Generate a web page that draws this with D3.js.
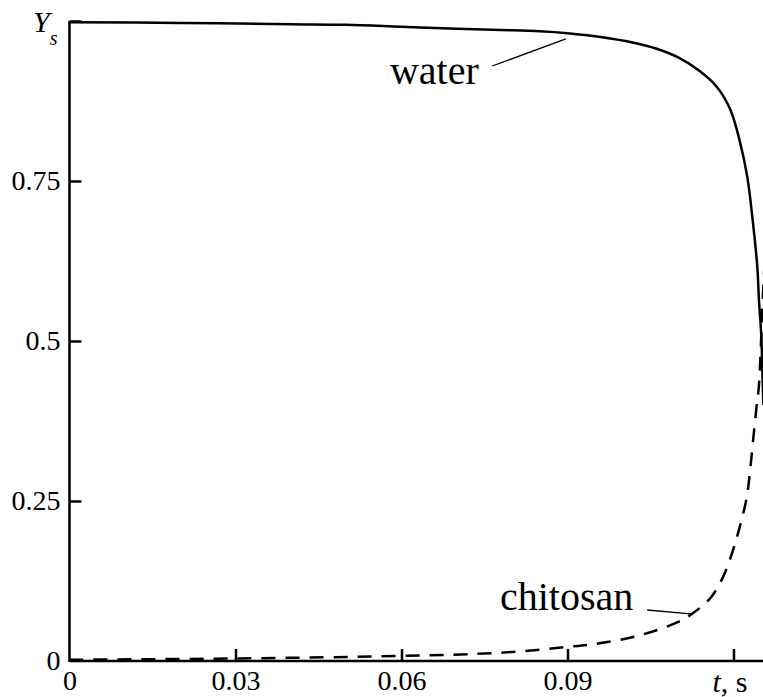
<!DOCTYPE html>
<html>
<head>
<meta charset="utf-8">
<script src="https://cdn.jsdelivr.net/npm/d3@7"></script>
</head>
<body style="margin:0">
<script>
// time, s
const waterT = [0, 0.02, 0.04, 0.05, 0.06, 0.07, 0.078, 0.085, 0.09, 0.096, 0.102, 0.106, 0.11, 0.114, 0.117, 0.1194, 0.1212, 0.1225, 0.1234, 0.1243, 0.1246, 0.125, 0.1252, 0.1254];
const waterY = [0.998, 0.997, 0.995, 0.994, 0.991, 0.988, 0.986, 0.984, 0.981, 0.975, 0.966, 0.957, 0.943, 0.921, 0.897, 0.862, 0.810, 0.756, 0.694, 0.616, 0.564, 0.512, 0.459, 0.40];

const chitT = [0, 0.03, 0.06, 0.078, 0.09, 0.096, 0.103, 0.11, 0.1127, 0.1158, 0.1181, 0.1199, 0.1212, 0.1224, 0.123, 0.1235, 0.1241, 0.1246, 0.1252, 0.1256];
const chitY = [0.002, 0.004, 0.008, 0.013, 0.022, 0.028, 0.04, 0.061, 0.075, 0.098, 0.131, 0.173, 0.212, 0.256, 0.298, 0.341, 0.392, 0.431, 0.55, 0.62];

const xTicks = [0, 0.03, 0.06, 0.09, 0.12];
const yTicks = [0, 0.25, 0.5, 0.75, 1];

const width = 763, height = 697;
const serif = '"Liberation Serif"';

const svg = d3.select('body').append('svg')
    .attr('width', width)
    .attr('height', height)
    .attr('font-family', serif);

const x = d3.scaleLinear().domain([0, 0.12]).range([69.5, 733.5]);
const y = d3.scaleLinear().domain([0, 1]).range([661, 21]);

const fmt = d3.format('');

function label(sel, size) {
    return sel.attr('font-family', serif).style('font-family', serif).style('font-size', size + 'px');
}

// x axis, ticks point inward
const xAxis = svg.append('g')
    .attr('transform', `translate(0,${y(0)})`)
    .call(d3.axisBottom(x)
        .tickValues(xTicks)
        .tickSizeInner(-12)
        .tickSizeOuter(0)
        .tickPadding(9)
        .tickFormat(d => d === 0.12 ? '' : fmt(d)))
    .attr('font-family', serif)
    .attr('font-size', null);
xAxis.select('.domain').remove();
xAxis.selectAll('.tick line').attr('stroke', '#000').attr('stroke-width', 2.5)
    .filter(d => d === 0).remove();
label(xAxis.selectAll('.tick text'), 28).attr('fill', '#000');

// y axis
const yAxis = svg.append('g')
    .attr('transform', `translate(${x(0)},0)`)
    .call(d3.axisLeft(y)
        .tickValues(yTicks)
        .tickSizeInner(-12)
        .tickSizeOuter(0)
        .tickPadding(9)
        .tickFormat(d => d === 1 ? '' : fmt(d)))
    .attr('font-family', serif)
    .attr('font-size', null);
yAxis.select('.domain').remove();
yAxis.selectAll('.tick line').attr('stroke', '#000').attr('stroke-width', 2.5)
    .filter(d => d === 0).remove();
label(yAxis.selectAll('.tick text'), 28).attr('fill', '#000');

// axis lines
svg.append('line')
    .attr('x1', x(0)).attr('x2', width)
    .attr('y1', y(0)).attr('y2', y(0))
    .attr('stroke', '#000').attr('stroke-width', 2.5);
svg.append('line')
    .attr('x1', x(0)).attr('x2', x(0))
    .attr('y1', y(0) + 1).attr('y2', y(1))
    .attr('stroke', '#000').attr('stroke-width', 2.5);

// axis titles
const yTitle = label(svg.append('text'), 30)
    .attr('x', 33).attr('y', 32)
    .style('font-style', 'italic');
yTitle.append('tspan').text('Y');
yTitle.append('tspan').style('font-size', '20px').attr('dy', 13).text('s');

const xTitle = label(svg.append('text'), 30)
    .attr('x', x(0.12) - 21).attr('y', 692);
xTitle.append('tspan').style('font-style', 'italic').text('t');
xTitle.append('tspan').text(', s');

// curves
const line = d3.line()
    .x(d => x(d[0]))
    .y(d => y(d[1]))
    .curve(d3.curveCatmullRom.alpha(0.5));

svg.append('path')
    .datum(waterT.map((t, i) => [t, waterY[i]]))
    .attr('d', line)
    .attr('fill', 'none')
    .attr('stroke', '#000')
    .attr('stroke-width', 2.5);

svg.append('path')
    .datum(chitT.map((t, i) => [t, chitY[i]]))
    .attr('d', line)
    .attr('fill', 'none')
    .attr('stroke', '#000')
    .attr('stroke-width', 2.5)
    .attr('stroke-dasharray', '14,10');

// labels with leader lines
label(svg.append('text'), 40)
    .attr('x', x(0.0579)).attr('y', y(0.9016))
    .text('water');
svg.append('line')
    .attr('x1', x(0.0764)).attr('y1', y(0.9297))
    .attr('x2', x(0.0897)).attr('y2', y(0.9719))
    .attr('stroke', '#000').attr('stroke-width', 1.3);

label(svg.append('text'), 40)
    .attr('x', x(0.0778)).attr('y', y(0.0797))
    .text('chitosan');
svg.append('line')
    .attr('x1', x(0.1044)).attr('y1', y(0.0797))
    .attr('x2', x(0.1127)).attr('y2', y(0.0734))
    .attr('stroke', '#000').attr('stroke-width', 1.3);

// force font resolution before the picture is taken
svg.selectAll('text').each(function () { this.getComputedTextLength(); });
</script>
</body>
</html>
